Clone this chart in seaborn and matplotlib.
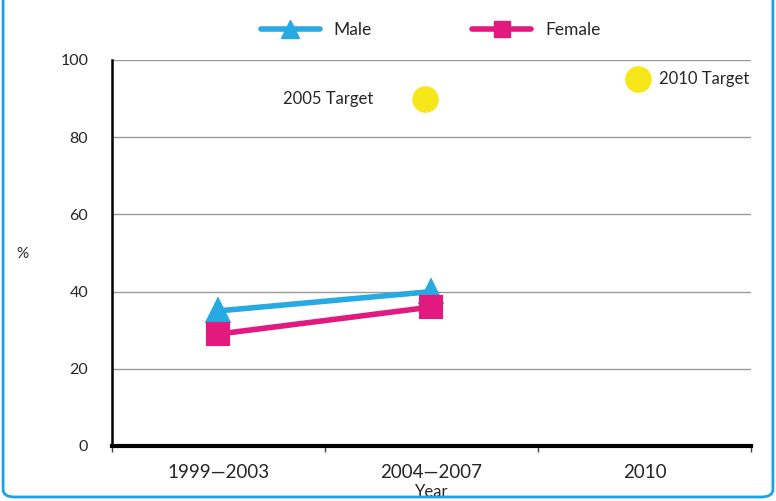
import numpy as np
import pandas as pd
import matplotlib.pyplot as plt
import seaborn as sns
from matplotlib.lines import Line2D
from matplotlib.patches import FancyBboxPatch

periods = ['1999—2003', '2004—2007', '2010']
male = [35, 40]
female = [29, 36]
target_labels = ['2005 Target', '2010 Target']
target_periods = ['2004—2007', '2010']
target_values = [90, 95]

C_MALE = '#27A9E1'
C_FEMALE = '#E2197E'
C_TARGET = '#F7E61A'
C_FRAME = '#1BA1E6'

df = pd.DataFrame({
    'period': periods[:2] * 2,
    'pct': male + female,
    'sex': ['Male'] * 2 + ['Female'] * 2,
})

sns.set_style('white')
plt.rcParams['font.family'] = ['Lato', 'DejaVu Sans']

fig = plt.figure(figsize=(7.76, 5.01), dpi=100)
ax = fig.add_axes([0.1443, 0.1098, 0.8235, 0.7705])

sns.pointplot(data=df, x='period', y='pct', hue='sex', order=periods,
              hue_order=['Male', 'Female'], palette=[C_MALE, C_FEMALE],
              markers=['^', 's'], linestyles=['-', '-'], errorbar=None,
              markersize=15, linewidth=4, ax=ax, legend=False)

# target dots sit a touch left of the category centres in the original
tx = [periods.index(p) - 0.03 for p in target_periods]
ax.scatter(tx, target_values, s=330, color=C_TARGET, zorder=5, clip_on=False)
ax.annotate(target_labels[0], (tx[0], target_values[0]), xytext=(-37, 0),
            textcoords='offset points', ha='right', va='center', fontsize=12)
ax.annotate(target_labels[1], (tx[1], target_values[1]), xytext=(15, 0),
            textcoords='offset points', ha='left', va='center', fontsize=12,
            annotation_clip=False)

ax.set_xlim(-0.5, 2.5)
ax.set_ylim(0, 100)
ax.set_yticks([0, 20, 40, 60, 80, 100])
ax.yaxis.grid(True, color='#9a9a9a', lw=1)
ax.set_axisbelow(True)
for s in ['top', 'right']:
    ax.spines[s].set_visible(False)
ax.spines['left'].set_color('black')
ax.spines['left'].set_linewidth(1.8)
ax.spines['bottom'].set_color('black')
ax.spines['bottom'].set_linewidth(3)

ax.set_xticks(range(len(periods)))
ax.set_xticklabels(periods, fontsize=13.5)
ax.set_xticks([-0.5, 0.5, 1.5, 2.5], minor=True)
ax.tick_params(axis='x', which='major', length=0, pad=13)
ax.tick_params(axis='x', which='minor', length=4, width=1, color='#444444', bottom=True)
ax.tick_params(axis='y', length=0, pad=17, labelsize=11.5)
ax.set_xlabel('Year', fontsize=12, labelpad=2)
ax.set_ylabel('%', fontsize=11, rotation=0, labelpad=0)
ax.yaxis.set_label_coords(-0.14, 0.48)

handles = [Line2D([], [], color=C_MALE, lw=4, marker='^', markersize=13),
           Line2D([], [], color=C_FEMALE, lw=4, marker='s', markersize=12)]
fig.legend(handles, ['Male', 'Female'], loc='center', bbox_to_anchor=(0.555, 0.94),
           ncol=2, frameon=False, fontsize=12.5, handlelength=3.4,
           columnspacing=5.8, handletextpad=0.8)

frame = FancyBboxPatch((0.004, 0.008), 0.992, 1.2, transform=fig.transFigure,
                       boxstyle='round,pad=0,rounding_size=0.015',
                       fill=False, edgecolor=C_FRAME, lw=2, clip_on=False)
fig.patches.append(frame)

fig.savefig('out.png', dpi=100)
